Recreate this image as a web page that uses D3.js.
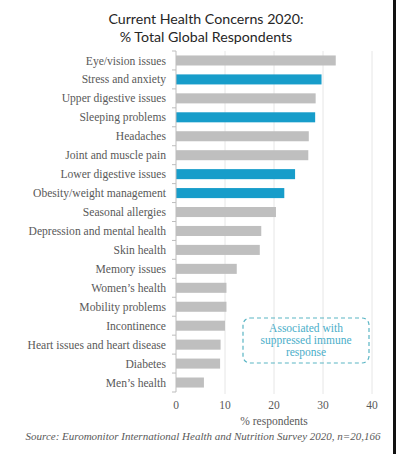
<!DOCTYPE html>
<html lang="en">
<head>
    <meta charset="UTF-8">
    <title>Current Health Concerns 2020</title>
    <script src="https://d3js.org/d3.v7.min.js"></script>
    <style>
        body { margin: 0; background: #fff; }
        .cat-label { font-family: "Liberation Serif", serif; font-size: 11.6px; fill: #595959; }
        .tick-label, .axis-title { font-family: "Liberation Serif", serif; font-size: 11.5px; fill: #595959; }
        .title { font-family: Lato, sans-serif; font-size: 14.2px; fill: #262626; }
        .source { font-family: "Liberation Serif", serif; font-style: italic; font-size: 11px; fill: #595959; }
        .note { font-family: "Liberation Serif", serif; font-size: 11.5px; fill: #4aaec9; }
    </style>
</head>
<body>
    <svg width="396" height="454"></svg>
    <script>
        const categories = [
            "Eye/vision issues", "Stress and anxiety", "Upper digestive issues", "Sleeping problems",
            "Headaches", "Joint and muscle pain", "Lower digestive issues", "Obesity/weight management",
            "Seasonal allergies", "Depression and mental health", "Skin health", "Memory issues",
            "Women\u2019s health", "Mobility problems", "Incontinence", "Heart issues and heart disease",
            "Diabetes", "Men\u2019s health"
        ];
        const values = [32.6, 29.7, 28.5, 28.4, 27.1, 27.0, 24.3, 22.1, 20.4, 17.4, 17.1, 12.4, 10.3, 10.3, 10.0, 9.1, 9.0, 5.7];
        // highlighted = associated with suppressed immune response
        const immune = ["Stress and anxiety", "Sleeping problems", "Lower digestive issues", "Obesity/weight management"];
        const xTicks = [0, 10, 20, 30, 40];

        const svg = d3.select("svg");
        const plotLeft = 176, plotRight = 372, plotTop = 51, plotBottom = 392;

        const x = d3.scaleLinear().domain([0, 40]).range([plotLeft, plotRight]);
        const y = d3.scaleBand().domain(categories).range([plotTop, plotBottom]).paddingInner(0.47).paddingOuter(0.235);

        // title
        svg.append("text").attr("class", "title").attr("x", 206).attr("y", 24)
           .attr("text-anchor", "middle").text("Current Health Concerns 2020:");
        svg.append("text").attr("class", "title").attr("x", 206).attr("y", 42)
           .attr("text-anchor", "middle").text("% Total Global Respondents");

        // gridlines
        svg.selectAll(".grid")
           .data(xTicks.slice(1))
           .enter().append("line")
           .attr("x1", d => x(d)).attr("x2", d => x(d))
           .attr("y1", plotTop).attr("y2", plotBottom + 2)
           .attr("stroke", "#e6e6e6").attr("stroke-width", 1);

        // bars
        svg.selectAll(".bar")
           .data(values)
           .enter().append("rect")
           .attr("x", x(0))
           .attr("y", (d, i) => y(categories[i]))
           .attr("width", d => x(d) - x(0))
           .attr("height", y.bandwidth())
           .attr("fill", (d, i) => immune.includes(categories[i]) ? "#179dca" : "#bfbfbf");

        // category axis with boundary ticks
        const step = y.step();
        const yAxis = svg.append("g");
        yAxis.append("line")
             .attr("x1", plotLeft).attr("x2", plotLeft).attr("y1", plotTop).attr("y2", plotBottom)
             .attr("stroke", "#bdbdbd");
        yAxis.selectAll(".btick")
             .data(d3.range(categories.length + 1))
             .enter().append("line")
             .attr("x1", plotLeft - 4).attr("x2", plotLeft)
             .attr("y1", i => plotTop + i * step).attr("y2", i => plotTop + i * step)
             .attr("stroke", "#bdbdbd");
        yAxis.selectAll(".cat-label")
             .data(categories)
             .enter().append("text")
             .attr("class", "cat-label")
             .attr("x", plotLeft - 10)
             .attr("y", d => y(d) + y.bandwidth() / 2)
             .attr("dy", "0.35em")
             .attr("text-anchor", "end")
             .text(d => d);

        // x tick labels
        svg.selectAll(".tick-label")
           .data(xTicks)
           .enter().append("text")
           .attr("class", "tick-label")
           .attr("x", d => x(d))
           .attr("y", 409)
           .attr("text-anchor", "middle")
           .text(d => d);

        svg.append("text").attr("class", "axis-title")
           .attr("x", (plotLeft + plotRight) / 2).attr("y", 425)
           .attr("text-anchor", "middle").text("% respondents");

        svg.append("text").attr("class", "source")
           .attr("x", 203).attr("y", 440)
           .attr("text-anchor", "middle")
           .text("Source: Euromonitor International Health and Nutrition Survey 2020, n=20,166");

        // annotation box
        svg.append("rect")
           .attr("x", 243).attr("y", 318).attr("width", 126).attr("height", 45)
           .attr("rx", 7).attr("fill", "none")
           .attr("stroke", "#5ab5c4").attr("stroke-width", 1.2)
           .attr("stroke-dasharray", "4,3");
        const note = ["Associated with", "suppressed immune", "response"];
        svg.selectAll(".note")
           .data(note)
           .enter().append("text")
           .attr("class", "note")
           .attr("x", 306)
           .attr("y", (d, i) => 331.5 + i * 12.3)
           .attr("text-anchor", "middle")
           .text(d => d);

        // dark right edge
        svg.append("rect").attr("x", 393).attr("y", 0).attr("width", 3).attr("height", 454).attr("fill", "#111");
    </script>
</body>
</html>
